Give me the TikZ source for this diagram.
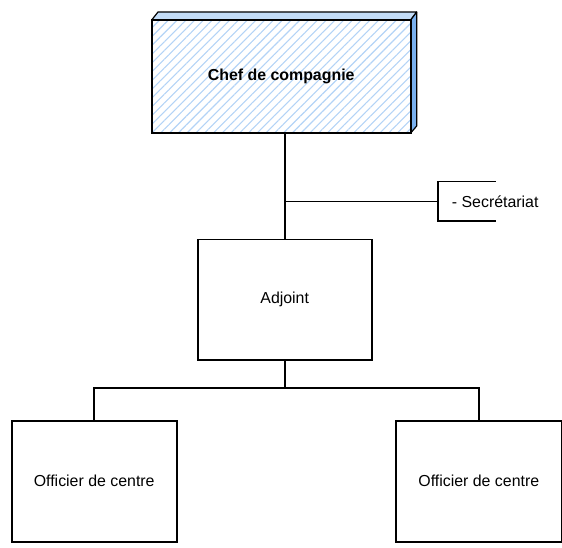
\documentclass[tikz,border=0pt]{standalone}
\usepackage{fontspec}
\setmainfont{Liberation Sans}
\usetikzlibrary{positioning, calc, patterns.meta}
\definecolor{orgline}{HTML}{000000}
\definecolor{hatchblue}{HTML}{B3D3F6}
\definecolor{topblue}{HTML}{C4DDF8}
\definecolor{sideblue}{HTML}{79B0EE}

\begin{document}
\begin{tikzpicture}[
  x=1pt, y=-1pt,
  every node/.style={font=\fontsize{15.9}{18}\selectfont},
  unitbox/.style={rectangle, draw=orgline, line width=1.7pt, minimum width=#1, minimum height=121pt, align=center, inner sep=0pt},
  link/.style={draw=orgline, line width=1.7pt},
]
\useasboundingbox (0,0) rectangle (562,548);

% 3D box of the chief
\filldraw[fill=topblue, draw=orgline, line width=1.2pt, line join=round] (151.7,20) -- (158,12) -- (416.7,12) -- (410.7,20) -- cycle;
\filldraw[fill=sideblue, draw=orgline, line width=1.2pt, line join=round] (410.7,20) -- (416.7,12) -- (416.7,126) -- (410.7,133) -- cycle;
\node[rectangle, draw=orgline, line width=1.7pt, minimum width=259pt, minimum height=113pt, inner sep=0pt,
  pattern={Lines[angle=45, distance=6.2pt, line width=1.1pt]}, pattern color=hatchblue,
  font=\fontsize{15.9}{18}\selectfont\bfseries] (chef) at (281.2,76.5) {Chef de compagnie};

\node[unitbox=174pt, minimum height=120.7pt] (adj) at (284.7,299.7) {Adjoint};
\node[unitbox=165pt] (off1) at (94.2,481.2) {Officier de centre};
\node[unitbox=165.7pt] (off2) at (478.8,481.2) {Officier de centre};

% Secretariat bracket
\node[anchor=west, minimum height=39.3pt, inner xsep=0pt, inner ysep=0pt, text depth=0pt] (sec) at (438,201.5) {\hspace{13.7pt}- Secrétariat};
\draw[link] ([xshift=57.7pt]sec.north west) -- (sec.north west) -- (sec.south west) -- ([xshift=57.7pt]sec.south west);

\draw[link] (chef.south -| adj.north) -- (adj.north);
\coordinate (jsec) at (adj.north |- sec.west);
\draw[link] (jsec) -- (sec.west);

% bus to the centres
\coordinate (bus) at (284.7,388.3);
\draw[link] (adj.south) -- (bus);
\draw[link] (off1.north) |- (bus) -| (off2.north);

\end{tikzpicture}
\end{document}
